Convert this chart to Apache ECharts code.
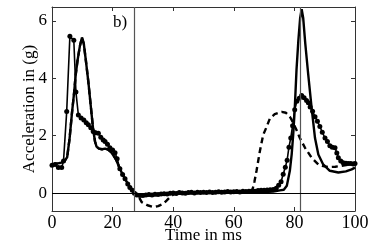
<!DOCTYPE html>
<html>
<head>
<meta charset="utf-8">
<script src="https://cdn.jsdelivr.net/npm/echarts@6/dist/echarts.min.js"></script>
<style>
html,body{margin:0;padding:0;background:#fff;}
#chart{width:374px;height:249px;}
</style>
</head>
<body>
<div id="chart"></div>
<script>
// ---- data ----
var xTicks = [0, 20, 40, 60, 80, 100];
var yTicks = [0, 2, 4, 6];
var markerTimes = [27, 82];

var measX = [0, 1, 2.1, 3.2, 3.8, 4.85, 5.9, 7.2, 7.9, 8.7, 9.6, 10.5, 11.3, 12, 12.8, 13.6, 14.4, 15.3, 16.1, 16.9, 17.5, 18.3, 19.1, 20, 20.8, 21.5, 22.4, 23.3, 24.1, 25, 25.7, 26.5, 27.2, 28, 29, 30, 31, 32, 33, 34, 35, 36, 37, 38, 39, 40, 41, 42, 43, 44, 45, 46, 47, 48, 49, 50, 51, 52, 53, 54, 55, 56, 57, 58, 59, 60, 61, 62, 63, 64, 65, 66, 67, 68, 69, 70, 71, 72, 73, 74, 74.8, 75.6, 76.3, 77, 77.6, 78.2, 78.8, 79.4, 80.1, 80.8, 81.6, 82.4, 83.2, 84, 84.6, 85.2, 86, 86.8, 87.6, 88.4, 89.2, 90.1, 90.9, 91.7, 92.5, 93.4, 94, 94.5, 95.3, 96.1, 97, 97.8, 98.6, 99.4, 100];
var measY = [0.97, 1.0, 0.89, 0.89, 1.12, 2.84, 5.46, 5.32, 3.52, 2.72, 2.62, 2.55, 2.45, 2.38, 2.28, 2.15, 2.1, 2.09, 1.95, 1.85, 1.8, 1.7, 1.58, 1.5, 1.41, 1.2, 0.85, 0.65, 0.5, 0.32, 0.2, 0.1, 0.0, -0.06, -0.08, -0.08, -0.06, -0.05, -0.06, -0.04, -0.05, -0.03, -0.02, -0.03, 0.0, 0.01, -0.01, 0.02, 0.01, 0.0, 0.02, 0.03, 0.01, 0.03, 0.02, 0.03, 0.02, 0.04, 0.02, 0.03, 0.05, 0.03, 0.04, 0.06, 0.04, 0.05, 0.06, 0.04, 0.07, 0.06, 0.07, 0.08, 0.07, 0.09, 0.1, 0.1, 0.11, 0.12, 0.13, 0.17, 0.28, 0.4, 0.66, 0.9, 1.15, 1.6, 1.92, 2.35, 2.9, 3.2, 3.3, 3.4, 3.32, 3.23, 3.15, 3.0, 2.85, 2.66, 2.5, 2.32, 2.12, 1.92, 1.8, 1.65, 1.6, 1.58, 1.4, 1.23, 1.12, 1.06, 1.04, 1.03, 1.03, 1.02, 1.03];

var simX = [0, 1, 2, 3, 4, 5, 5.8, 6.6, 7.3, 7.8, 8.4, 9.2, 9.9, 10.5, 11.2, 12, 13.1, 13.6, 14.2, 14.7, 15.5, 16.5, 17.5, 18.5, 19.5, 20, 21, 22, 23, 24, 25, 26, 27, 28, 30, 33, 36, 40, 45, 50, 55, 60, 65, 70, 73, 75.2, 76.5, 77.5, 78.5, 79.1, 79.6, 80.1, 80.7, 81.3, 81.9, 82.4, 82.9, 83.6, 84.5, 85.7, 86.8, 87.9, 89.5, 91.7, 94.5, 97, 98.9, 100];
var simY = [1.0, 1.02, 1.04, 1.06, 1.1, 1.25, 1.9, 2.8, 3.5, 4.1, 4.6, 5.12, 5.42, 5.2, 4.6, 3.87, 2.72, 2.2, 1.8, 1.62, 1.55, 1.53, 1.55, 1.52, 1.43, 1.4, 1.2, 0.95, 0.72, 0.52, 0.33, 0.15, 0.02, -0.05, -0.08, -0.07, -0.05, -0.02, 0.0, 0.01, 0.02, 0.02, 0.03, 0.04, 0.06, 0.1, 0.12, 0.26, 0.78, 1.35, 2.03, 2.9, 4.3, 5.3, 6.1, 6.4, 6.1, 5.2, 4.2, 2.95, 1.92, 1.35, 1.0, 0.78, 0.72, 0.76, 0.83, 0.89];

var dashX = [0, 1, 2, 3, 4, 5, 5.8, 6.6, 7.3, 7.8, 8.4, 9.2, 9.9, 10.5, 11.2, 12, 13.1, 13.6, 14.2, 14.7, 15.5, 16.5, 17.5, 18.5, 19.5, 20, 21, 22, 23, 24, 25, 26, 27, 27.9, 28.8, 29.6, 31.5, 33.4, 35, 36.7, 37.8, 38.9, 40, 41, 45, 50, 55, 60, 64, 66, 66.8, 67.5, 68.6, 69.7, 70.8, 71.9, 73.5, 75.8, 77.2, 78.5, 79.1, 80.7, 81.8, 83.5, 85.7, 87.9, 89.5, 91.2, 93.5, 95.6, 98, 100];
var dashY = [1.0, 1.02, 1.04, 1.06, 1.1, 1.25, 1.9, 2.8, 3.5, 4.1, 4.6, 5.12, 5.42, 5.2, 4.6, 3.87, 2.72, 2.2, 1.8, 1.62, 1.55, 1.53, 1.55, 1.52, 1.43, 1.4, 1.2, 0.95, 0.72, 0.52, 0.33, 0.15, 0.02, -0.02, -0.16, -0.31, -0.42, -0.48, -0.45, -0.37, -0.26, -0.14, -0.05, 0.0, 0.01, 0.01, 0.02, 0.02, 0.02, 0.05, 0.4, 0.78, 1.46, 2.03, 2.3, 2.6, 2.75, 2.83, 2.8, 2.66, 2.55, 2.2, 1.92, 1.58, 1.23, 1.0, 0.94, 0.91, 0.92, 0.95, 1.0, 1.03];

function pairs(xs, ys) { return xs.map(function (x, i) { return [x, ys[i]]; }); }

var FONT = 'Liberation Serif';
var FS = 17;
var axisCol = '#333';

var chart = echarts.init(document.getElementById('chart'), null, {renderer: 'canvas'});
var xBase = {
  type: 'value', min: 0, max: 100, interval: 20,
  axisLine: {show: true, onZero: false, lineStyle: {color: axisCol, width: 1}},
  axisTick: {show: true, inside: true, length: 4, lineStyle: {color: axisCol}},
  splitLine: {show: false}
};
var yBase = {
  type: 'value', min: -0.62, max: 6.48,
  axisLine: {show: true, onZero: false, lineStyle: {color: axisCol, width: 1}},
  axisTick: {show: true, inside: true, length: 4, customValues: yTicks, lineStyle: {color: axisCol}},
  splitLine: {show: false}
};

chart.setOption({
  animation: false,
  backgroundColor: '#fff',
  grid: {left: 52, right: 19, top: 7, bottom: 35, containLabel: false},
  xAxis: [
    Object.assign({}, xBase, {
      position: 'bottom',
      name: 'Time in ms', nameLocation: 'middle', nameGap: 16, nameMoveOverlap: false,
      nameTextStyle: {fontFamily: FONT, fontSize: FS, color: '#000'},
      axisLabel: {show: true, margin: 3, fontFamily: FONT, fontSize: 18, color: '#000',
        customValues: xTicks}
    }),
    Object.assign({}, xBase, {position: 'top', axisLabel: {show: false}})
  ],
  yAxis: [
    Object.assign({}, yBase, {
      position: 'left',
      name: 'Acceleration in (g)', nameLocation: 'middle', nameGap: 14, nameRotate: 90,
      nameMoveOverlap: false,
      nameTextStyle: {fontFamily: FONT, fontSize: FS, color: '#000'},
      axisLabel: {show: true, margin: 5, fontFamily: FONT, fontSize: FS, color: '#000',
        customValues: yTicks}
    }),
    Object.assign({}, yBase, {position: 'right', axisLabel: {show: false}})
  ],
  graphic: [{
    type: 'text', left: 113, top: 14,
    style: {text: 'b)', font: FS + 'px "Liberation Serif"', fill: '#000'}
  }],
  series: [
    {
      type: 'line', name: 'dashed', data: pairs(dashX, dashY), showSymbol: false, symbol: 'none',
      lineStyle: {color: '#000', width: 2.4, type: [6, 4]}, z: 2,
      markLine: {
        silent: true, symbol: 'none', label: {show: false},
        data: markerTimes.map(function (t) { return {xAxis: t, lineStyle: {color: '#555', width: 1.2, type: 'solid'}}; })
          .concat([{yAxis: 0, lineStyle: {color: '#000', width: 1, type: 'solid'}}])
      }
    },
    {
      type: 'line', name: 'sim', data: pairs(simX, simY), showSymbol: false, symbol: 'none',
      lineStyle: {color: '#000', width: 2.4}, z: 3
    },
    {
      type: 'line', name: 'meas', data: pairs(measX, measY), symbol: 'circle', symbolSize: 5,
      itemStyle: {color: '#000'}, lineStyle: {color: '#000', width: 1.6}, z: 4
    }
  ]
});
</script>
</body>
</html>
